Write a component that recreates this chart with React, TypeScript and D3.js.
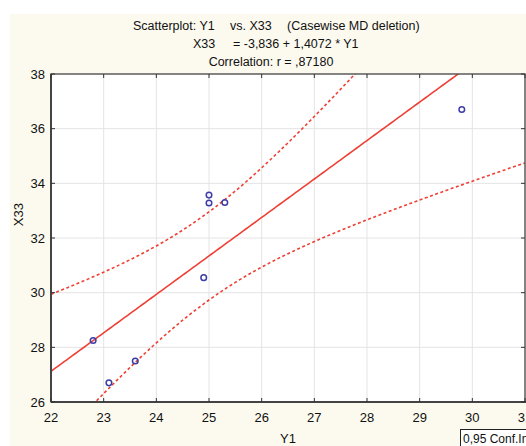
import React, { useRef, useEffect } from 'react';
import * as d3 from 'd3';

// data
const y1Values = [22.8, 23.1, 23.6, 24.9, 25.0, 25.0, 25.3, 29.8];
const x33Values = [28.25, 26.7, 27.5, 30.55, 33.57, 33.28, 33.3, 36.7];
const xTicks = [22, 23, 24, 25, 26, 27, 28, 29, 30, 31];
const yTicks = [26, 28, 30, 32, 34, 36, 38];
const intercept = -3.836;
const slope = 1.4072;
const tCrit = 2.447; // t(0.975, df = 6)

const W = 526;
const H = 446;
const margin = { top: 74, right: 1, bottom: 44, left: 51 };

const App: React.FC = () => {
  const svgRef = useRef<SVGSVGElement>(null);

  useEffect(() => {
    const svg = d3.select(svgRef.current);
    svg.selectAll('*').remove();

    const x = d3.scaleLinear().domain([22, 31]).range([margin.left, W - margin.right]);
    const y = d3.scaleLinear().domain([26, 38]).range([H - margin.bottom, margin.top]);

    // cream page background
    svg.append('rect').attr('x', 10).attr('y', 14).attr('width', W - 10).attr('height', H - 14).attr('fill', '#fcfaef');

    // titles
    const font = "'Liberation Sans', Arial, sans-serif";
    const title = svg.append('g').style('font-family', font).style('font-size', '12.5px').attr('fill', '#111');
    title.append('text').attr('x', 133).attr('y', 30).text('Scatterplot: Y1');
    title.append('text').attr('x', 230).attr('y', 30).text('vs. X33');
    title.append('text').attr('x', 287).attr('y', 30).text('(Casewise MD deletion)');
    title.append('text').attr('x', 193).attr('y', 48).text('X33');
    title.append('text').attr('x', 233).attr('y', 48).text('= -3,836 + 1,4072 * Y1');
    title.append('text').attr('x', 271).attr('y', 66).attr('text-anchor', 'middle').text('Correlation: r = ,87180');

    // plot area
    svg.append('rect')
      .attr('x', margin.left).attr('y', margin.top)
      .attr('width', W - margin.right - margin.left).attr('height', H - margin.bottom - margin.top)
      .attr('fill', '#fff');

    svg.append('defs').append('clipPath').attr('id', 'plotclip')
      .append('rect')
      .attr('x', margin.left).attr('y', margin.top)
      .attr('width', W - margin.right - margin.left).attr('height', H - margin.bottom - margin.top);

    // grid
    const grid = svg.append('g').attr('stroke', '#e4e4e4').attr('stroke-width', 1);
    xTicks.slice(1, -1).forEach(t => {
      grid.append('line').attr('x1', x(t)).attr('x2', x(t)).attr('y1', margin.top).attr('y2', H - margin.bottom);
    });
    yTicks.slice(1, -1).forEach(t => {
      grid.append('line').attr('y1', y(t)).attr('y2', y(t)).attr('x1', margin.left).attr('x2', W - margin.right);
    });

    // regression line and 95% confidence band
    const n = y1Values.length;
    const xbar = d3.mean(y1Values) as number;
    const sxx = d3.sum(y1Values, v => (v - xbar) ** 2);
    const sse = d3.sum(y1Values, (v, i) => (x33Values[i] - (intercept + slope * v)) ** 2);
    const s = Math.sqrt(sse / (n - 2));
    const half = (v: number) => tCrit * s * Math.sqrt(1 / n + (v - xbar) ** 2 / sxx);
    const fit = (v: number) => intercept + slope * v;

    const xs = d3.range(0, 181).map(i => 22 + (i * 9) / 180);
    const plot = svg.append('g').attr('clip-path', 'url(#plotclip)');

    plot.append('path')
      .attr('d', d3.line<number>().x(d => x(d)).y(d => y(fit(d)))(xs))
      .attr('fill', 'none').attr('stroke', '#ee4035').attr('stroke-width', 1.6);
    [1, -1].forEach(sign => {
      plot.append('path')
        .attr('d', d3.line<number>().x(d => x(d)).y(d => y(fit(d) + sign * half(d)))(xs))
        .attr('fill', 'none').attr('stroke', '#ee4035').attr('stroke-width', 1.6)
        .attr('stroke-dasharray', '3,2.5');
    });

    // points
    plot.selectAll('circle.pt')
      .data(y1Values)
      .enter()
      .append('circle')
      .attr('class', 'pt')
      .attr('cx', d => x(d))
      .attr('cy', (d, i) => y(x33Values[i]))
      .attr('r', 2.8)
      .attr('fill', 'none')
      .attr('stroke', '#3c3ca8')
      .attr('stroke-width', 1.5);

    // frame
    svg.append('rect')
      .attr('x', margin.left).attr('y', margin.top)
      .attr('width', W - margin.right - margin.left).attr('height', H - margin.bottom - margin.top)
      .attr('fill', 'none').attr('stroke', '#444').attr('stroke-width', 1.3);
    svg.append('line')
      .attr('x1', margin.left).attr('x2', margin.left)
      .attr('y1', margin.top).attr('y2', H - margin.bottom)
      .attr('stroke', '#444').attr('stroke-width', 2);
    svg.append('line')
      .attr('x1', margin.left).attr('x2', W)
      .attr('y1', H - margin.bottom).attr('y2', H - margin.bottom)
      .attr('stroke', '#444').attr('stroke-width', 2);

    // inside ticks
    const ticks = svg.append('g').attr('stroke', '#333').attr('stroke-width', 1);
    xTicks.forEach(t => {
      ticks.append('line').attr('x1', x(t)).attr('x2', x(t)).attr('y1', H - margin.bottom).attr('y2', H - margin.bottom - 4);
      ticks.append('line').attr('x1', x(t)).attr('x2', x(t)).attr('y1', margin.top).attr('y2', margin.top + 4);
    });
    yTicks.forEach(t => {
      ticks.append('line').attr('y1', y(t)).attr('y2', y(t)).attr('x1', margin.left).attr('x2', margin.left + 4);
      ticks.append('line').attr('y1', y(t)).attr('y2', y(t)).attr('x1', W - margin.right).attr('x2', W - margin.right - 4);
    });

    // legend box (cut off by the page edge, as in the reference)
    svg.append('rect').attr('x', 460.5).attr('y', 429.5).attr('width', 80).attr('height', 30)
      .attr('fill', '#fff').attr('stroke', '#222').attr('stroke-width', 1);

    // tick labels
    const labels = svg.append('g').style('font-family', font).style('font-size', '13px').attr('fill', '#111');
    xTicks.forEach(t => {
      labels.append('text').attr('x', x(t)).attr('y', H - 24).attr('text-anchor', 'middle').text(t);
    });
    yTicks.forEach(t => {
      labels.append('text').attr('x', 45).attr('y', y(t)).attr('dy', '0.35em').attr('text-anchor', 'end').text(t);
    });

    // axis titles
    labels.append('text').attr('x', 288).attr('y', 443).attr('text-anchor', 'middle').text('Y1');
    labels.append('text')
      .attr('transform', `translate(23, ${(y(32) + y(34)) / 2 + 4}) rotate(-90)`)
      .attr('text-anchor', 'middle')
      .text('X33');

    labels.append('text').attr('x', 463).attr('y', 443).style('font-size', '12px').text('0,95 Conf.Int.');
  }, []);

  return (
    <svg
      ref={svgRef}
      width={W}
      height={H}
      style={{ position: 'absolute', left: 0, top: 0, display: 'block' }}
    />
  );
};

export default App;
